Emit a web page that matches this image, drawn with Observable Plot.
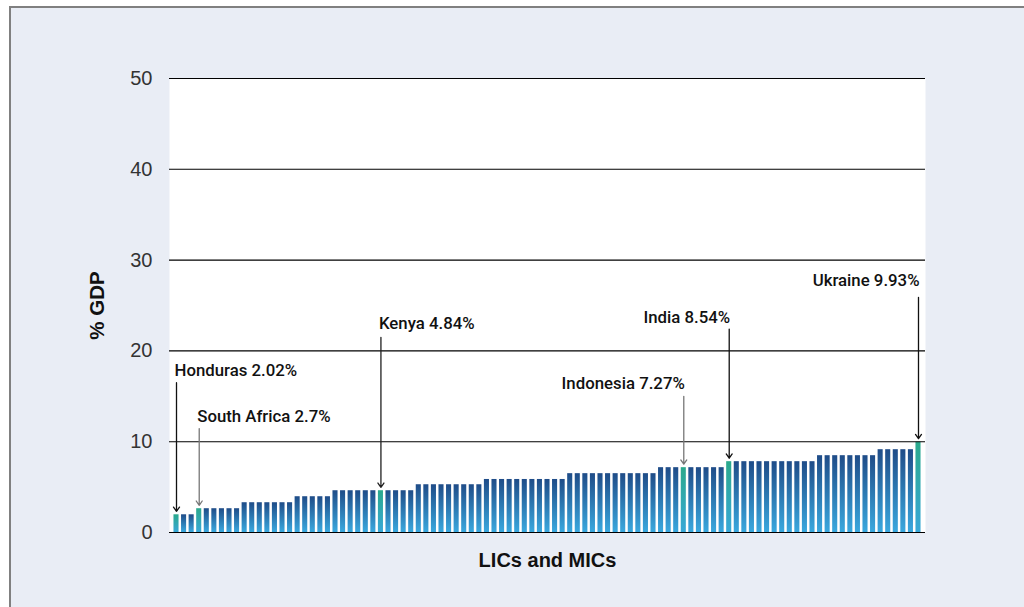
<!DOCTYPE html>
<html><head><meta charset="utf-8">
<script src="https://cdn.jsdelivr.net/npm/d3@7"></script>
<script src="https://cdn.jsdelivr.net/npm/@observablehq/plot@0.6"></script>
<style>
html,body{margin:0;padding:0;background:#fff;overflow:hidden;}
#panel{position:absolute;left:9px;top:6px;width:1015px;height:601px;border-top:2px solid #808080;border-left:2px solid #808080;background:#e9edf5;}
#panel svg{display:block;}
</style></head><body><div id="panel"></div>
<script>
// Bar values (% GDP), 99 LICs and MICs, sorted ascending, as drawn
const values = [
  1.95, 1.95, 1.95,
  2.62, 2.62, 2.62, 2.62, 2.62, 2.62,
  3.28, 3.28, 3.28, 3.28, 3.28, 3.28, 3.28,
  3.94, 3.94, 3.94, 3.94, 3.94,
  4.6, 4.6, 4.6, 4.6, 4.6, 4.6, 4.6, 4.6, 4.6, 4.6, 4.6,
  5.26, 5.26, 5.26, 5.26, 5.26, 5.26, 5.26, 5.26, 5.26,
  5.84, 5.84, 5.84, 5.84, 5.84, 5.84, 5.84, 5.84, 5.84, 5.84, 5.84,
  6.48, 6.48, 6.48, 6.48, 6.48, 6.48, 6.48, 6.48, 6.48, 6.48, 6.48, 6.48,
  7.14, 7.14, 7.14, 7.14, 7.14, 7.14, 7.14, 7.14, 7.14,
  7.8, 7.8, 7.8, 7.8, 7.8, 7.8, 7.8, 7.8, 7.8, 7.8, 7.8, 7.8,
  8.46, 8.46, 8.46, 8.46, 8.46, 8.46, 8.46, 8.46,
  9.12, 9.12, 9.12, 9.12, 9.12,
  9.95
];
// Highlighted countries: bar position (1-based) and label
const highlightIndex = [1, 4, 28, 68, 74, 99];
const highlightLabels = ["Honduras 2.02%", "South Africa 2.7%", "Kenya 4.84%", "Indonesia 7.27%", "India 8.54%", "Ukraine 9.93%"];
const yTicks = [0, 10, 20, 30, 40, 50];
const xTitle = "LICs and MICs";
const yTitle = "% GDP";

// Annotation layout (label height and arrow start in axis units, anchor side, arrow tone)
const labelLevel = [17.85, 12.8, 23.0, 16.4, 23.7, 27.75];
const arrowStart = [16.5, 11.45, 21.5, 15.0, 22.4, 25.9];
const labelSide = ["start", "start", "start", "end", "end", "end"];
const arrowTone = ["#111", "#777", "#222", "#777", "#111", "#111"];

const bars = values.map((v, k) => ({i: k + 1, value: v, hi: highlightIndex.includes(k + 1)}));
const notes = highlightIndex.map((idx, k) => ({
  i: idx, label: highlightLabels[k], ly: labelLevel[k], y1: arrowStart[k],
  y2: values[idx - 1] + 0.38, side: labelSide[k], tone: arrowTone[k]
}));

const font = "'Liberation Sans', Arial, Helvetica, sans-serif";
const noteFont = "Roboto, 'Liberation Sans', Arial, sans-serif";
const chart = Plot.plot({
  width: 1013, height: 599,
  marginLeft: 158, marginRight: 99, marginTop: 70, marginBottom: 75,
  style: {fontFamily: font, fontSize: "20px", color: "#333", background: "transparent", overflow: "visible"},
  x: {type: "band", domain: bars.map(d => d.i), paddingInner: 0.33, paddingOuter: 0.59, axis: null},
  y: {domain: [0, 50], ticks: yTicks, tickSize: 0, tickPadding: 17, label: null, tickFormat: d => String(d)},
  marks: [
    Plot.frame({fill: "white", stroke: null}),
    Plot.barY(bars.filter(d => !d.hi), {x: "i", y: "value", fill: "url(#gradBlue)"}),
    Plot.barY(bars.filter(d => d.hi), {x: "i", y: "value", fill: "url(#gradGreen)"}),
    Plot.ruleY(yTicks, {stroke: "#000", strokeWidth: 1.1}),
    ...notes.map(n => Plot.arrow([n], {x1: "i", x2: "i", y1: "y1", y2: "y2", stroke: n.tone, strokeWidth: 1.3, headLength: 6, headAngle: 70})),
    Plot.text(notes.filter(n => n.side === "start"), {x: "i", y: "ly", text: "label", textAnchor: "start", dx: -2, fontFamily: noteFont, fontSize: 16.8, fontWeight: 500, fill: "#111"}),
    Plot.text(notes.filter(n => n.side === "end"), {x: "i", y: "ly", text: "label", textAnchor: "end", dx: 1, fontFamily: noteFont, fontSize: 16.8, fontWeight: 500, fill: "#111"}),
    Plot.text([xTitle], {frameAnchor: "bottom", lineAnchor: "middle", dy: 28, fontSize: 20, fontWeight: "bold", fill: "#111"}),
    Plot.text([yTitle], {frameAnchor: "left", textAnchor: "middle", lineAnchor: "middle", dx: -72, rotate: -90, fontSize: 20.5, fontWeight: "bold", fill: "#111"})
  ]
});

const defs = d3.select(chart).insert("defs", ":first-child");
const g1 = defs.append("linearGradient").attr("id", "gradBlue").attr("x1", 0).attr("y1", 0).attr("x2", 0).attr("y2", 1);
g1.append("stop").attr("offset", "0%").attr("stop-color", "#1f4c88");
g1.append("stop").attr("offset", "100%").attr("stop-color", "#3aa8de");
const g2 = defs.append("linearGradient").attr("id", "gradGreen").attr("x1", 0).attr("y1", 0).attr("x2", 0).attr("y2", 1);
g2.append("stop").attr("offset", "0%").attr("stop-color", "#2aa98c");
g2.append("stop").attr("offset", "100%").attr("stop-color", "#39a8d8");

document.getElementById("panel").appendChild(chart);
</script></body></html>
